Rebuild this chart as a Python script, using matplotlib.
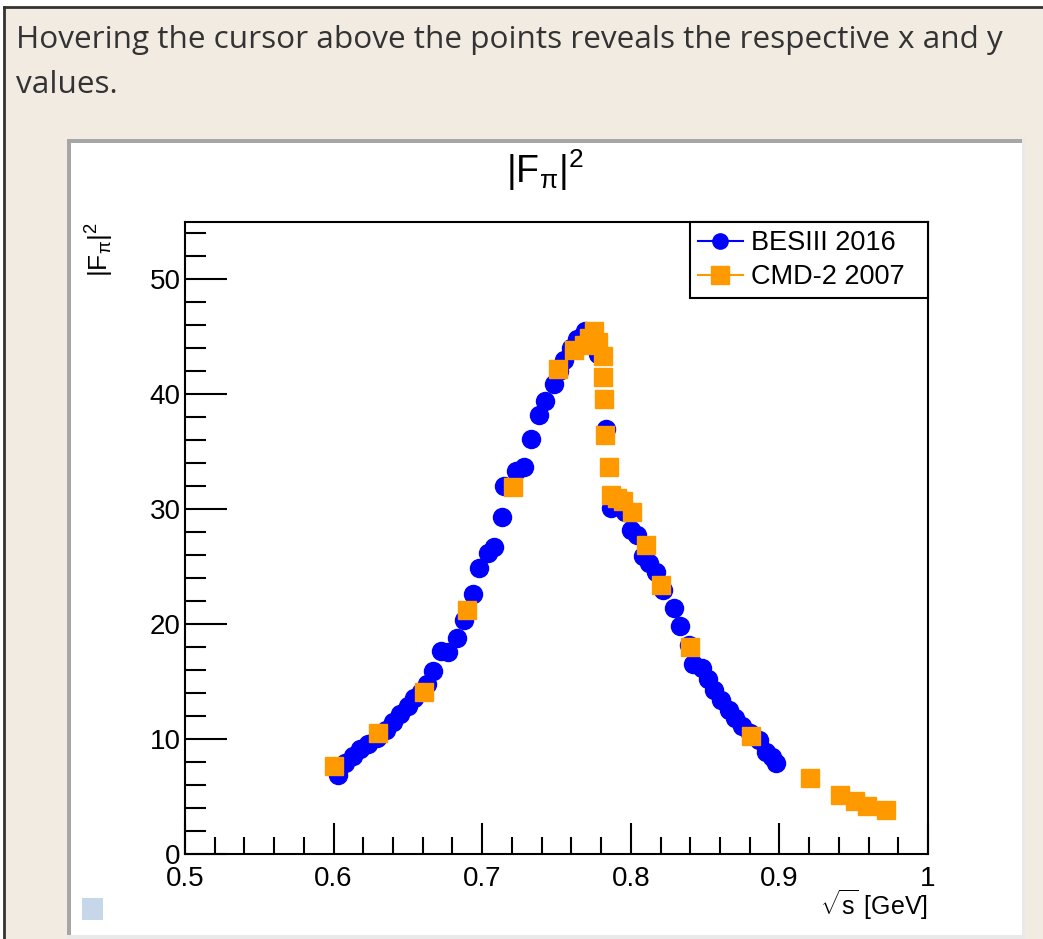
"""plot.py - pion form factor |F_pi|^2 vs sqrt(s), ROOT canvas look-alike"""

import matplotlib
matplotlib.use('Agg')
import matplotlib.pyplot as plt
from matplotlib.patches import Rectangle
from matplotlib.lines import Line2D

W, H = 1043, 939

# BESIII 2016 (blue circles)
bes_x = [0.603, 0.608, 0.613, 0.618, 0.623, 0.629, 0.635, 0.640, 0.645, 0.650,
         0.654, 0.659, 0.663, 0.667, 0.672, 0.677, 0.683, 0.688, 0.694, 0.698,
         0.704, 0.708, 0.713, 0.715, 0.723, 0.728, 0.733, 0.738, 0.742, 0.748,
         0.752, 0.755, 0.760, 0.764, 0.769, 0.773, 0.778, 0.783, 0.787, 0.791,
         0.796, 0.800, 0.804, 0.808, 0.812, 0.817, 0.822, 0.829, 0.833, 0.839,
         0.842, 0.848, 0.852, 0.856, 0.861, 0.866, 0.870, 0.875, 0.880, 0.886,
         0.891, 0.895, 0.898]
bes_y = [6.9, 7.9, 8.5, 9.1, 9.6, 10.1, 10.8, 11.5, 12.2, 12.9,
         13.6, 14.1, 14.8, 15.9, 17.7, 17.6, 18.8, 20.4, 22.6, 24.9,
         26.2, 26.7, 29.3, 32.0, 33.3, 33.7, 36.1, 38.2, 39.4, 40.9,
         42.0, 43.0, 44.0, 44.8, 45.5, 45.3, 43.5, 37.0, 30.1, 30.5,
         29.8, 28.2, 27.8, 25.9, 25.3, 24.5, 23.0, 21.4, 19.8, 18.2,
         16.5, 16.2, 15.2, 14.3, 13.4, 12.5, 11.8, 11.1, 10.5, 9.9,
         8.9, 8.4, 7.9]

# CMD-2 2007 (orange squares)
cmd_x = [0.6005, 0.630, 0.661, 0.690, 0.7205, 0.751, 0.762, 0.7685, 0.772, 0.775,
         0.778, 0.781, 0.7812, 0.782, 0.7828, 0.785, 0.7868, 0.791, 0.795, 0.801,
         0.810, 0.8205, 0.840, 0.881, 0.9204, 0.9406, 0.9507, 0.959, 0.9717]
cmd_y = [7.7, 10.5, 14.1, 21.2, 31.9, 42.2, 43.9, 44.3, 44.9, 45.5,
         44.6, 43.3, 41.5, 39.6, 36.5, 33.7, 31.2, 31.0, 30.7, 29.8,
         26.9, 23.4, 18.0, 10.3, 6.6, 5.1, 4.6, 4.2, 3.8]

x_ticks = [0.5, 0.6, 0.7, 0.8, 0.9, 1.0]
x_tick_labels = ['0.5', '0.6', '0.7', '0.8', '0.9', '1']
y_ticks = [0, 10, 20, 30, 40, 50]

BEIGE = '#f2ebe1'
BLUE = '#0000ff'
ORANGE = '#ff9900'

plt.rcParams['mathtext.fontset'] = 'custom'
plt.rcParams['mathtext.rm'] = 'Liberation Sans'
plt.rcParams['mathtext.it'] = 'Liberation Sans:italic'
plt.rcParams['font.family'] = ['Liberation Sans', 'DejaVu Sans']


def fx(px):
    return px / W


def fy(py):
    return 1 - py / H


fig = plt.figure(figsize=(W / 100, H / 100), dpi=100)
fig.patch.set_facecolor('white')

# page background + page border
fig.add_artist(Rectangle((fx(4), fy(H)), 1, fy(7) - fy(H), transform=fig.transFigure,
                         facecolor=BEIGE, edgecolor='none', zorder=0))
fig.add_artist(Line2D([fx(4), 1], [fy(7), fy(7)], color='#333333', lw=2))
fig.add_artist(Line2D([fx(4), fx(4)], [fy(7), 0], color='#333333', lw=2))

# header text, scaled to the width seen in the reference
head = fig.text(fx(16), fy(48), 'Hovering the cursor above the points reveals the respective x and y',
                family='Open Sans', fontsize=22, color='#333333', va='baseline')
fig.canvas.draw()
wd = head.get_window_extent().width
head.set_fontsize(22 * 984 / wd)
fig.text(fx(16), fy(93), 'values.', family='Open Sans', fontsize=head.get_fontsize(),
         color='#333333', va='baseline')

# ROOT canvas: white pad with shaded border
fig.add_artist(Rectangle((fx(67), fy(939)), fx(1025) - fx(67), fy(139) - fy(939),
                         transform=fig.transFigure, facecolor='#e9e9e9', edgecolor='none', zorder=1))
fig.add_artist(Rectangle((fx(67), fy(935)), fx(1022) - fx(67), fy(139) - fy(935),
                         transform=fig.transFigure, facecolor='#a6a6a6', edgecolor='none', zorder=1))
fig.add_artist(Rectangle((fx(71), fy(935)), fx(1022) - fx(71), fy(143) - fy(935),
                         transform=fig.transFigure, facecolor='white', edgecolor='none', zorder=1))
# little status square bottom-left
fig.add_artist(Rectangle((fx(82), fy(920)), fx(103) - fx(82), fy(898) - fy(920),
                         transform=fig.transFigure, facecolor='#c6d7e9', edgecolor='none', zorder=2))

ax = fig.add_axes([fx(185), fy(854), fx(928) - fx(185), fy(222) - fy(854)])
ax.set_zorder(3)
ax.patch.set_alpha(0)

ax.plot(bes_x, bes_y, 'o', color=BLUE, markersize=13, label='BESIII 2016')
ax.plot(cmd_x, cmd_y, 's', color=ORANGE, markersize=13.5, label='CMD-2 2007')

ax.set_xlim(0.5, 1.0)
ax.set_ylim(0, 55)
ax.set_xticks(x_ticks)
ax.set_xticklabels(x_tick_labels)
ax.set_xticks([0.5 + 0.02 * i for i in range(26)], minor=True)
ax.set_yticks(y_ticks)
ax.set_yticks(list(range(0, 56, 2)), minor=True)
ax.tick_params(which='both', direction='in', top=False, right=False, width=1.5, colors='black')
ax.tick_params(axis='x', which='major', length=22, pad=9, labelsize=20)
ax.tick_params(axis='x', which='minor', length=12)
ax.tick_params(axis='y', which='major', length=30, pad=3, labelsize=20)
ax.tick_params(axis='y', which='minor', length=15)
for sp in ax.spines.values():
    sp.set_linewidth(1.5)

# pad title, axis titles (ROOT style placement)
fig.text(fx(545), fy(170), r'$|\mathrm{F}_{\mathrm{\pi}}|^{2}$', fontsize=27, ha='center', va='center')
fig.text(fx(928), fy(905), r'$\sqrt{\mathrm{s}}$ [GeV]', fontsize=18, ha='right', va='center')
fig.text(fx(100), fy(222), r'$|\mathrm{F}_{\mathrm{\pi}}|^{2}$', fontsize=19, rotation=90,
         ha='center', va='top')

h1 = Line2D([], [], color=BLUE, marker='o', markersize=11, lw=1.5)
h2 = Line2D([], [], color=ORANGE, marker='s', markersize=13, lw=1.5)
leg = ax.legend([h1, h2], ['BESIII 2016', 'CMD-2 2007'], loc='upper left',
                bbox_to_anchor=((690 - 185) / 743, 0.8766, 1 - (690 - 185) / 743, 0.1234),
                mode='expand', borderaxespad=0, fancybox=False, framealpha=1,
                edgecolor='black', fontsize=19.5, handlelength=1.65, handletextpad=0.3,
                labelspacing=0.3, borderpad=0.3)
leg.get_frame().set_linewidth(1.5)

fig.savefig('out.png', dpi=100)
